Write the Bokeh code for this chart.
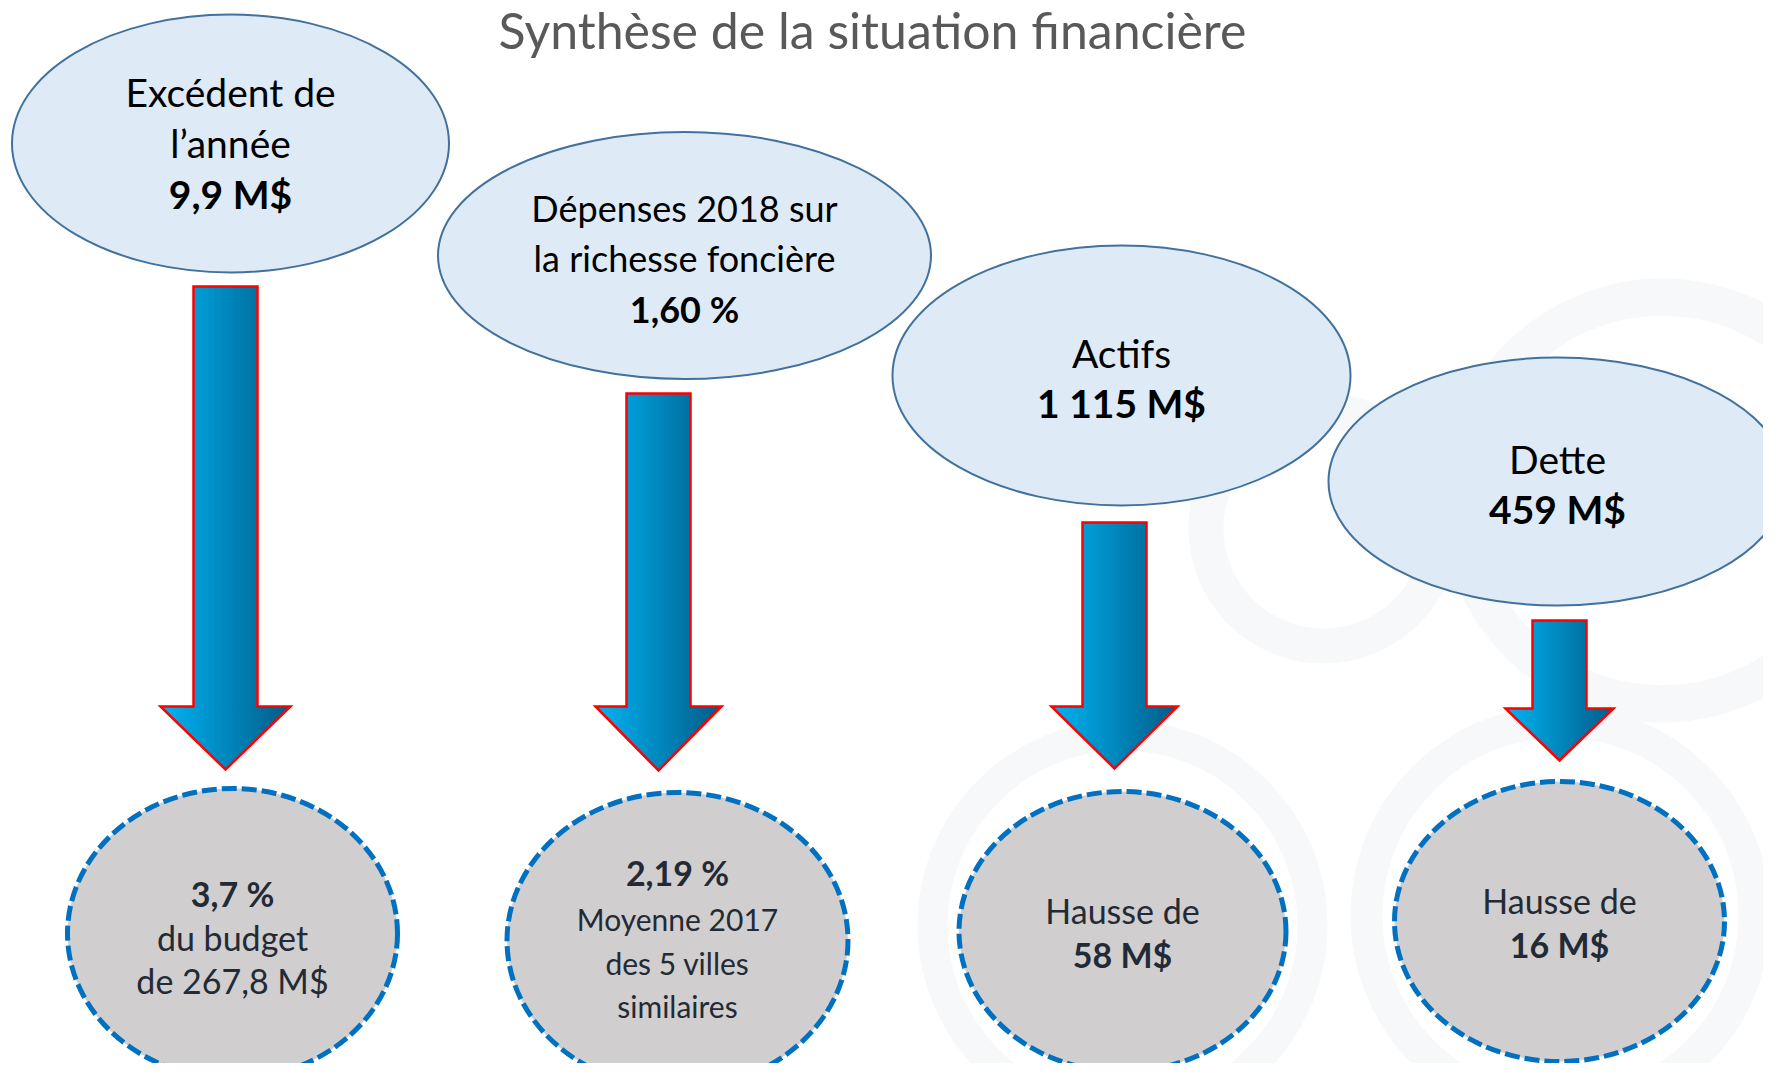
import numpy as np
from bokeh.plotting import figure
from bokeh.models import Range1d, ColumnDataSource
from bokeh.core.properties import value
from bokeh.embed import file_html
from bokeh.resources import INLINE

# ---------------- data ----------------
title_text = "Synthèse de la situation financière"
categories = ["Excédent de l’année", "Dépenses 2018 sur la richesse foncière", "Actifs", "Dette"]
top_label_lines = [["Excédent de", "l’année"], ["Dépenses 2018 sur", "la richesse foncière"], ["Actifs"], ["Dette"]]
top_values = ["9,9 M$", "1,60 %", "1 115 M$", "459 M$"]
bottom_values = ["3,7 %", "2,19 %", "58 M$", "16 M$"]
bottom_notes = [["du budget", "de 267,8 M$"], ["Moyenne 2017", "des 5 villes", "similaires"], ["Hausse de"], ["Hausse de"]]
bottom_value_first = [True, True, False, False]

# ---------------- layout ----------------
W, H = 1763, 1063
FONT = "Lato"

top_cx = [230, 684, 1121, 1557]
top_cy = [143, 255, 375, 481]
top_w = [437, 493, 458, 458]
top_h = [258, 247, 260, 248]
top_line_y = [[91, 142, 193], [207, 257, 308], [352, 402], [458, 508]]
top_font = ["39px", "36px", "39px", "39px"]

arrow_cx = [225, 658, 1114, 1559]
arrow_top = [286, 393, 522, 620]
arrow_neck = [706, 706, 706, 708]
arrow_tip = [769, 770, 768, 760]
arrow_shaft_hw = [32, 32, 32, 27]
arrow_head_hw = [65, 63, 63, 54]

bot_cx = [232, 677, 1122, 1559]
bot_cy = [933, 940, 931, 921]
bot_w = [330, 341, 327, 330]
bot_h = [290, 296, 280, 280]
bot_line_y = [[893, 937, 980], [872, 918, 962, 1005], [910, 954], [900, 944]]
bot_font_normal = ["34px", "30px", "34px", "34px"]
bot_font_bold = ["34px", "34px", "34px", "34px"]

# faint watermark rings (background decoration)
wm_x = [1323, 1662, 1122, 1560]
wm_y = [528, 500, 925, 915]
wm_inner = [100, 185, 175, 178]
wm_outer = [135, 222, 205, 210]

p = figure(width=W, height=H, x_range=Range1d(0, W), y_range=Range1d(H, 0),
           output_backend="svg", toolbar_location=None, min_border=0)
p.axis.visible = False
p.grid.visible = False
p.outline_line_color = None
p.background_fill_color = "white"
p.border_fill_color = "white"

p.annulus(x=wm_x, y=wm_y, inner_radius=wm_inner, outer_radius=wm_outer,
          fill_color="#F7F8FA", line_color=None)

# title
p.text(x=[872], y=[29], text=[title_text], text_font=value(FONT), text_font_size="50px",
       text_color="#595959", text_align="center", text_baseline="middle")

# top ellipses
p.ellipse(x=top_cx, y=top_cy, width=top_w, height=top_h, fill_color="#DEEBF7",
          line_color="#41719C", line_width=2)

# top texts
tn = dict(x=[], y=[], t=[], fs=[])
tb = dict(x=[], y=[], t=[], fs=[])
for i in range(len(categories)):
    lines = top_label_lines[i]
    ys = top_line_y[i]
    for j, ln in enumerate(lines):
        tn["x"].append(top_cx[i]); tn["y"].append(ys[j]); tn["t"].append(ln); tn["fs"].append(top_font[i])
    tb["x"].append(top_cx[i]); tb["y"].append(ys[len(lines)]); tb["t"].append(top_values[i]); tb["fs"].append(top_font[i])
p.text(x="x", y="y", text="t", text_font_size="fs", source=ColumnDataSource(tn),
       text_font=value(FONT), text_color="black", text_align="center", text_baseline="middle")
p.text(x="x", y="y", text="t", text_font_size="fs", source=ColumnDataSource(tb),
       text_font=value(FONT), text_font_style="bold", text_color="black",
       text_align="center", text_baseline="middle")

# arrows with horizontal gradient
c0 = np.array([0x00, 0xB4, 0xF4])
c1 = np.array([0x00, 0x5C, 0x88])


def grad(t):
    c = c0 + (c1 - c0) * t
    return "#%02x%02x%02x" % tuple(int(round(v)) for v in c)


gx, gy, gc = [], [], []
ox, oy = [], []
N = 36
for i in range(len(categories)):
    cx, top, neck, tip = arrow_cx[i], arrow_top[i], arrow_neck[i], arrow_tip[i]
    sw, hw = arrow_shaft_hw[i], arrow_head_hw[i]
    edges = np.linspace(cx - hw, cx + hw, N + 1)

    def bot(x):
        return neck + (tip - neck) * (1 - abs(x - cx) / hw)

    for a, b in zip(edges[:-1], edges[1:]):
        col = grad(((a + b) / 2 - (cx - hw)) / (2 * hw))
        xs = [a, b, b]
        ys = [neck, neck, bot(b)]
        if a < cx < b:
            xs.append(cx); ys.append(tip)
        xs.append(a); ys.append(bot(a))
        gx.append(xs); gy.append(ys); gc.append(col)
        lo, hi = max(a, cx - sw), min(b, cx + sw)
        if hi > lo:
            gx.append([lo, hi, hi, lo]); gy.append([top, top, neck + 1, neck + 1]); gc.append(col)
    ox.append([cx - sw, cx + sw, cx + sw, cx + hw, cx, cx - hw, cx - sw, cx - sw])
    oy.append([top, top, neck, neck, tip, neck, neck, top])

p.patches(xs=gx, ys=gy, fill_color=gc, line_color=gc, line_width=1)
p.patches(xs=ox, ys=oy, fill_alpha=0, line_color="#FF0000", line_width=2.5, line_join="miter")

# bottom ellipses
p.ellipse(x=bot_cx, y=bot_cy, width=bot_w, height=bot_h, fill_color="#D0CECE",
          line_color="#0070C0", line_width=5, line_dash="15 5")

bn = dict(x=[], y=[], t=[], fs=[])
bb = dict(x=[], y=[], t=[], fs=[])
for i in range(len(categories)):
    ys = bot_line_y[i]
    notes = bottom_notes[i]
    if bottom_value_first[i]:
        bb["x"].append(bot_cx[i]); bb["y"].append(ys[0]); bb["t"].append(bottom_values[i]); bb["fs"].append(bot_font_bold[i])
        for j, ln in enumerate(notes):
            bn["x"].append(bot_cx[i]); bn["y"].append(ys[j + 1]); bn["t"].append(ln); bn["fs"].append(bot_font_normal[i])
    else:
        for j, ln in enumerate(notes):
            bn["x"].append(bot_cx[i]); bn["y"].append(ys[j]); bn["t"].append(ln); bn["fs"].append(bot_font_normal[i])
        bb["x"].append(bot_cx[i]); bb["y"].append(ys[len(notes)]); bb["t"].append(bottom_values[i]); bb["fs"].append(bot_font_bold[i])
p.text(x="x", y="y", text="t", text_font_size="fs", source=ColumnDataSource(bn),
       text_font=value(FONT), text_color="#222A35", text_align="center", text_baseline="middle")
p.text(x="x", y="y", text="t", text_font_size="fs", source=ColumnDataSource(bb),
       text_font=value(FONT), text_font_style="bold", text_color="#222A35",
       text_align="center", text_baseline="middle")

open("out.html", "w").write(file_html(p, INLINE))
